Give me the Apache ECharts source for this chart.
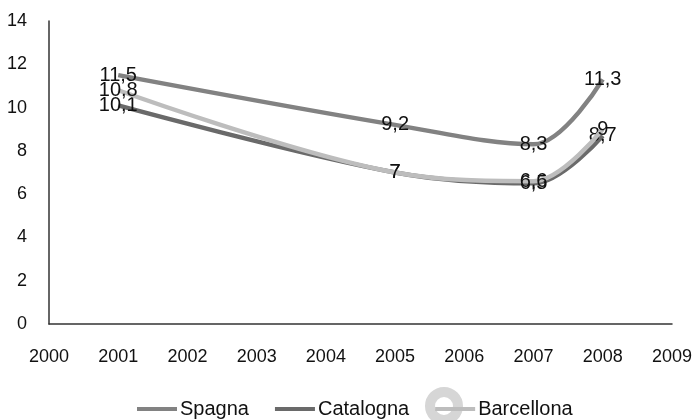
<!DOCTYPE html>
<html>
<head>
<meta charset="utf-8">
<script src="https://cdn.jsdelivr.net/npm/echarts@6/dist/echarts.min.js"></script>
<style>
  html, body { margin: 0; padding: 0; background: #fff; }
  #chart { width: 695px; height: 420px; }
</style>
</head>
<body>
<div id="chart"></div>
<script>
// Years on the horizontal axis and the rate for each area
const years = [2001, 2005, 2007, 2008];
const spagna = [11.5, 9.2, 8.3, 11.3];
const catalogna = [10.1, 7, 6.5, 8.7];
const barcellona = [10.8, 7, 6.6, 9];
const seriesNames = ['Spagna', 'Catalogna', 'Barcellona'];
const seriesColors = ['#828282', '#6a6a6a', '#bdbdbd'];

const font = 'Liberation Sans, Arial, sans-serif';
const fmt = v => String(v).replace('.', ',');

function pairs(values) {
  return years.map((y, i) => [y, values[i]]);
}

function makeSeries(name, values, color, z) {
  return {
    name: name,
    type: 'line',
    data: pairs(values),
    smooth: 0.35,
    showSymbol: true,
    symbol: 'circle',
    symbolSize: 0.1,
    z: z,
    lineStyle: { color: color, width: 4.5 },
    itemStyle: { color: color },
    label: {
      show: true,
      position: 'inside',
      color: '#111',
      fontFamily: font,
      fontSize: 20,
      formatter: p => fmt(p.value[1])
    },
    labelLayout: { hideOverlap: false }
  };
}

const chart = echarts.init(document.getElementById('chart'), null, { renderer: 'canvas' });
chart.setOption({
  animation: false,
  backgroundColor: '#fff',
  grid: { left: 49, right: 23, top: 21, bottom: 96, containLabel: false },
  xAxis: {
    type: 'value',
    min: 2000, max: 2009, interval: 1,
    axisLine: { show: true, onZero: false, lineStyle: { color: '#333', width: 1.5 } },
    axisTick: { show: false },
    splitLine: { show: false },
    axisLabel: { color: '#111', fontFamily: font, fontSize: 18, margin: 24, formatter: v => String(v) }
  },
  yAxis: {
    type: 'value',
    min: 0, max: 14, interval: 2,
    axisLine: { show: true, lineStyle: { color: '#333', width: 1.5 } },
    axisTick: { show: false },
    splitLine: { show: false },
    axisLabel: { color: '#111', fontFamily: font, fontSize: 18, margin: 22 }
  },
  legend: {
    bottom: -4,
    left: 132,
    itemWidth: 40,
    itemHeight: 4,
    itemGap: 26,
    icon: 'rect',
    data: seriesNames,
    textStyle: { color: '#111', fontFamily: font, fontSize: 20, padding: [0, 0, 0, -2] }
  },
  graphic: [{
    type: 'circle',
    z: -1,
    shape: { cx: 444, cy: 406, r: 14 },
    style: { fill: 'none', stroke: '#d6d6d6', lineWidth: 10 }
  }],
  series: [
    makeSeries(seriesNames[0], spagna, seriesColors[0], 3),
    makeSeries(seriesNames[1], catalogna, seriesColors[1], 2),
    makeSeries(seriesNames[2], barcellona, seriesColors[2], 4)
  ]
});
</script>
</body>
</html>
